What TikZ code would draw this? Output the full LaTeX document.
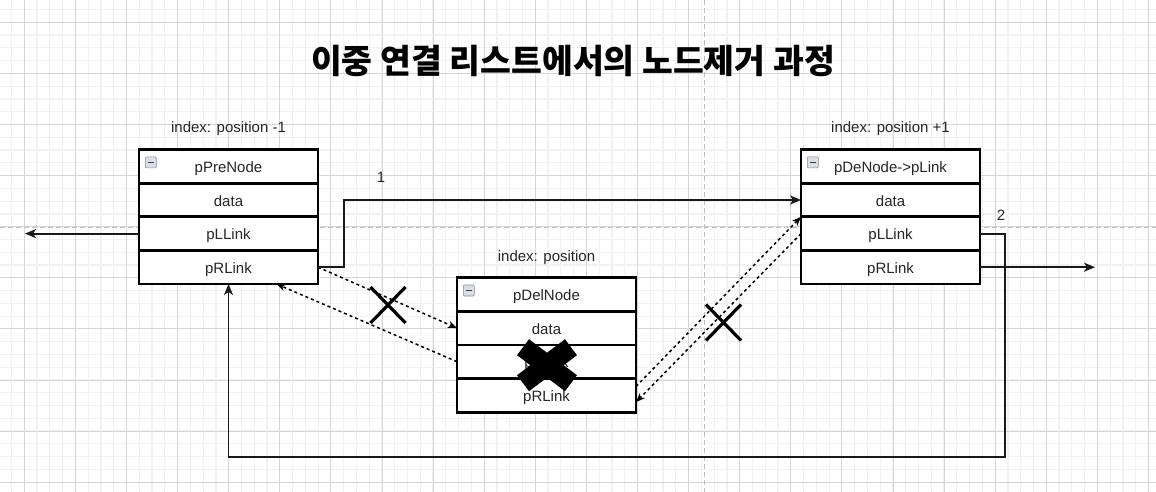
\documentclass[tikz,border=0pt]{standalone}
\usepackage{fontspec}
\setmainfont{Liberation Sans}
\newfontfamily\krfont{Noto Sans CJK KR}
\usetikzlibrary{arrows.meta, positioning, shapes.misc}
\definecolor{gridmajor}{RGB}{214,214,214}
\definecolor{gridminor}{RGB}{241,241,241}
\definecolor{guideline}{RGB}{192,192,192}
\definecolor{iconfill}{RGB}{214,222,234}

\begin{document}
\begin{tikzpicture}[
    x=1pt, y=-1pt,
    font=\fontsize{15}{18}\selectfont,
    minorline/.style={
      draw=gridminor,
      line width=1.2pt
    },
    majorline/.style={
      draw=gridmajor,
      line width=1pt
    },
    guide/.style={
      draw=guideline,
      line width=1pt,
      dash pattern=on 5pt off 3pt
    },
    field/.style={
      draw,
      line width=2.8pt,
      fill=white,
      text=black!85,
      minimum width=179pt,
      minimum height=33.6pt,
      text height=12pt,
      text depth=0pt,
      inner sep=0pt,
      outer sep=0pt
    },
    idx/.style={
      text=black!85
    },
    foldicon/.style={
      draw=black!45,
      line width=0.6pt,
      fill=iconfill,
      rounded corners=1pt,
      minimum size=11pt,
      inner sep=0pt,
      path picture={
        \draw[black!75, line width=1.6pt]
          ([xshift=2.5pt]path picture bounding box.west) --
          ([xshift=-2.5pt]path picture bounding box.east);
      }
    },
    link/.style={
      -{Stealth[length=11pt, width=9pt, inset=3pt]},
      line width=1.8pt,
      draw=black!90
    },
    oldlink/.style={
      -{Stealth[length=9pt, width=7pt, inset=2.5pt]},
      line width=1.5pt,
      dash pattern=on 3pt off 3pt
    },
    cutmark/.style={
      cross out,
      draw,
      line width=3.2pt,
      minimum width=35pt,
      minimum height=36pt,
      inner sep=0pt,
      outer sep=0pt
    },
    bigcut/.style={
      cross out,
      draw,
      line width=20pt,
      minimum width=48pt,
      minimum height=36pt,
      inner sep=0pt,
      outer sep=0pt
    }
  ]

    \useasboundingbox (0,0) rectangle (1156,492);

    % Background grid and guides
    \fill[white] (0,0) rectangle (1156,492);
    \foreach \i in {0,...,89}
      \draw[minorline] ({11.5+12.775*\i},0) -- ++(0,492);
    \foreach \i in {0,...,37}
      \draw[minorline] (0,{9.5+12.775*\i}) -- ++(1156,0);
    \foreach \i in {0,...,22}
      \draw[majorline] ({24.3+51.1*\i},0) -- ++(0,492);
    \foreach \i in {0,...,9}
      \draw[majorline] (0,{22.3+51.1*\i}) -- ++(1156,0);
    \draw[guide] (704,0) -- (704,492);
    \draw[guide] (0,227.5) -- (1156,227.5);

    % Title
    \node[font=\krfont\bfseries\fontsize{33.5}{40}\selectfont] (title) at (573,61)
      {이중 연결 리스트에서의 노드제거 과정};

    % Previous node
    \node[field] (pre-head) at (228.5,166.4) {pPreNode};
    \node[field, below=0pt of pre-head] (pre-data) {data};
    \node[field, below=0pt of pre-data] (pre-llink) {pLLink};
    \node[field, below=0pt of pre-llink] (pre-rlink) {pRLink};
    \node[foldicon, anchor=north west] (pre-icon) at ([xshift=6pt, yshift=-7pt]pre-head.north west) {};
    \node[idx, above=10pt of pre-head] (pre-label) {index: position -1};

    % Node to delete
    \node[field] (del-head) at (546.5,294.5) {pDelNode};
    \node[field, below=0pt of del-head] (del-data) {data};
    \node[field, below=0pt of del-data] (del-llink) {pLLink};
    \node[field, below=0pt of del-llink] (del-rlink) {pRLink};
    \node[foldicon, anchor=north west] (del-icon) at ([xshift=6pt, yshift=-7pt]del-head.north west) {};
    \node[idx, above=10pt of del-head] (del-label) {index: position};

    % Next node
    \node[field] (next-head) at (890.5,166.4) {pDeNode->pLink};
    \node[field, below=0pt of next-head] (next-data) {data};
    \node[field, below=0pt of next-data] (next-llink) {pLLink};
    \node[field, below=0pt of next-llink] (next-rlink) {pRLink};
    \node[foldicon, anchor=north west] (next-icon) at ([xshift=6pt, yshift=-7pt]next-head.north west) {};
    \node[idx, above=10pt of next-head] (next-label) {index: position +1};

    % Links to the rest of the list
    \coordinate[left=114pt of pre-llink.west] (pre-out);
    \coordinate[right=115pt of next-rlink.east] (next-out);
    \draw[link] (pre-llink.west) -- (pre-out);
    \draw[link] (next-rlink.east) -- (next-out);

    % Old links through the deleted node
    \draw[oldlink] (pre-rlink.east) -- (del-data.west);
    \draw[oldlink] (del-llink.west) -- ([xshift=48pt]pre-rlink.south);
    \draw[oldlink] ([yshift=-8pt]del-rlink.north east) -- (next-data.south west);
    \draw[oldlink] (next-llink.west) -- ([yshift=10pt]del-rlink.south east);

    % New links, steps 1 and 2
    \draw[link] (pre-rlink.east) -- ++(26,0) |- (next-data.west);
    \draw[link] (next-llink.east) -- ++(25,0) -- ++(0,223.5) -| (pre-rlink.south);
    \node[idx] (step-one) at (381,177) {1};
    \node[idx] (step-two) at (1001,215) {2};

    % Cut marks
    \node[cutmark] (cut-pre) at (388,305) {};
    \node[cutmark] (cut-next) at (723.5,322.5) {};
    \node[bigcut] (cut-del) at ([xshift=0.5pt, yshift=-3.5pt]del-llink.center) {};

  \end{tikzpicture}
\end{document}
